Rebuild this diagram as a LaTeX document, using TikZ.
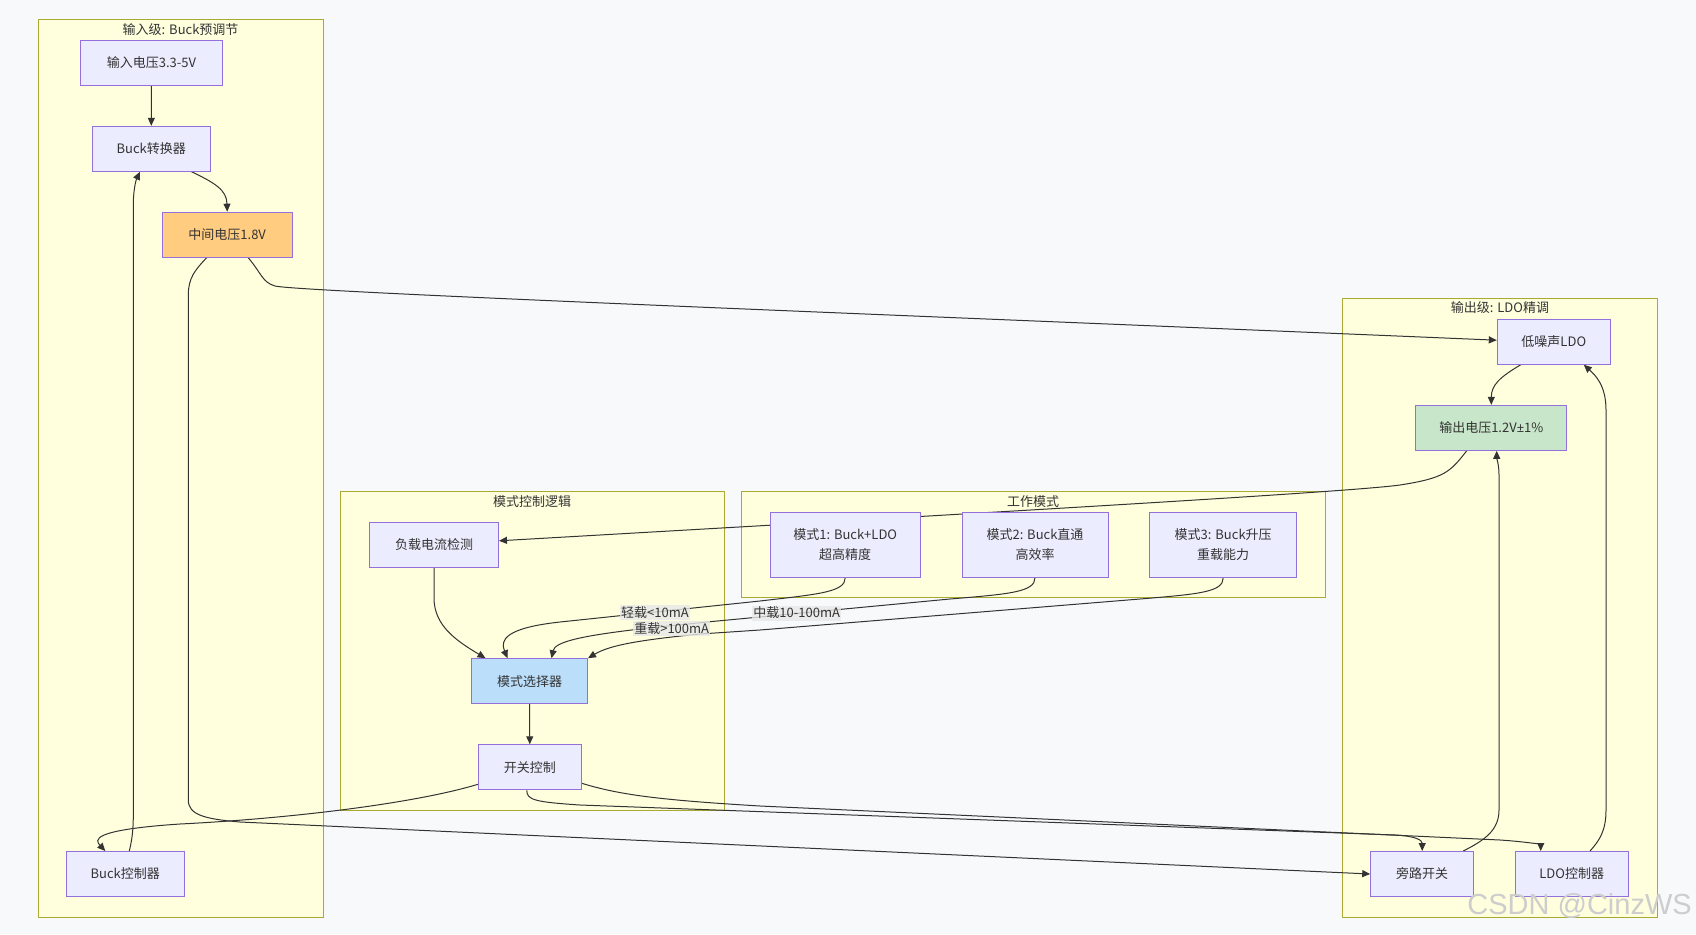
\documentclass[tikz,border=0pt]{standalone}
\usepackage{fontspec}
\setmainfont{Noto Sans CJK SC}
\newfontfamily\wmfont{Liberation Sans}
\newfontfamily\pmfont{Noto Sans}
\usetikzlibrary{arrows.meta,backgrounds}

\definecolor{pagebg}{RGB}{248,249,251}
\definecolor{clusterfill}{RGB}{255,255,222}
\definecolor{clusterline}{RGB}{170,170,51}
\definecolor{nodefill}{RGB}{236,236,255}
\definecolor{nodeline}{RGB}{147,112,219}
\definecolor{orangefill}{RGB}{255,204,128}
\definecolor{greenfill}{RGB}{200,230,201}
\definecolor{bluefill}{RGB}{187,222,251}
\definecolor{inkgray}{RGB}{51,51,51}
\definecolor{lblgray}{RGB}{232,232,232}
\definecolor{wmgray}{RGB}{205,205,205}

\begin{document}
\begin{tikzpicture}[x=1pt, y=-1pt,
    box/.style={draw=nodeline, fill=nodefill, line width=1pt, minimum height=45pt, inner sep=0pt, text=inkgray, font=\fontsize{13}{16}\selectfont},
    modebox/.style={box, minimum height=65pt, align=center, font=\fontsize{13}{19.7}\selectfont},
    cluster/.style={draw=clusterline, fill=clusterfill, line width=1pt},
    grptitle/.style={text=inkgray, inner sep=1pt, font=\fontsize{13}{16}\selectfont},
    link/.style={draw=inkgray, line width=1pt, -{Triangle[length=8pt,width=7pt]}},
    lbl/.style={fill=lblgray, fill opacity=0.8, text opacity=1, text=inkgray, inner xsep=1pt, inner ysep=1.5pt, font=\fontsize{13}{16}\selectfont}
]
\useasboundingbox (0,0) rectangle (1696,934);

% Input stage
\node[box, minimum width=142pt] (vin) at (151.5,62.7) {输入电压3.3-5V};
\node[box, minimum width=118pt] (buck) at (151.3,148.8) {Buck转换器};
\node[box, fill=orangefill, minimum width=130pt] (vmid) at (227.2,234.7) {中间电压1.8V};
\node[box, minimum width=118pt] (buckctl) at (125.3,874) {Buck控制器};

% Mode control logic
\node[box, minimum width=129pt] (sense) at (434,544.8) {负载电流检测};
\node[box, fill=bluefill, minimum width=116pt] (sel) at (529.5,681.2) {模式选择器};
\node[box, minimum width=103pt] (sw) at (529.8,767.3) {开关控制};

% Working modes
\node[modebox, minimum width=150pt] (modeA) at (845.2,544.7) {模式1: Buck+LDO\\超高精度};
\node[modebox, minimum width=146pt] (modeB) at (1035,544.7) {模式2: Buck直通\\高效率};
\node[modebox, minimum width=147pt] (modeC) at (1223.2,544.7) {模式3: Buck升压\\重载能力};

% Output stage
\node[box, minimum width=113pt] (ldo) at (1553.8,341.7) {低噪声LDO};
\node[box, fill=greenfill, minimum width=151pt] (vout) at (1491.3,427.8) {输出电压1.2V{\pmfont ±}1\%};
\node[box, minimum width=103pt] (bypass) at (1422.2,874) {旁路开关};
\node[box, minimum width=113pt] (ldoctl) at (1571.7,874) {LDO控制器};

% Group titles
\node[grptitle] (inTitle) at (180.6,29.2) {输入级: Buck预调节};
\node[grptitle] (ctrlTitle) at (532,501.7) {模式控制逻辑};
\node[grptitle] (modeTitle) at (1033,501.7) {工作模式};
\node[grptitle] (outTitle) at (1500,308) {输出级: LDO精调};

\begin{scope}[on background layer]
% Page and groups
\fill[pagebg] (0,0) rectangle (1696,934);
\draw[cluster] (38,19.3) rectangle (323.4,917.2);
\draw[cluster] (340.7,491.7) rectangle (724,810.3);
\draw[cluster] (741,491.7) rectangle (1325.3,597.3);
\draw[cluster] (1342.3,298.3) rectangle (1657.3,917.3);

% Power path
\draw[link] (vin.south) -- (buck.north);
\draw[link] ([xshift=40.4pt]buck.south) .. controls (215,183) and (226.7,190) .. (vmid.north);
\draw[link] ([xshift=21pt]vmid.south) .. controls (262,274) and (262,282) .. (275,286) .. controls (300,292) and (900,315) .. ([yshift=1.5pt]ldo.west);
\draw[link] ([xshift=-33pt]ldo.south) .. controls (1500,377) and (1491.3,385) .. (vout.north);

% Sensing and mode selection
\draw[link] ([xshift=-24.6pt]vout.south) .. controls (1450,472) and (1445,478) .. (1400,485) .. controls (1350,492) and (1000,512) .. ([yshift=4pt]sense.east);
\draw[link] (sense.south) -- ++(0,30) .. controls (434,625) and (455,640) .. ([xshift=-44pt]sel.north);
\draw[link] (modeA.south) .. controls (845.2,592) and (820,594) .. (760,601) -- (560,622) .. controls (505,628) and (500,640) .. ([xshift=-22pt]sel.north);
\draw[link] (modeB.south) .. controls (1035,592) and (1010,594) .. (950,599) -- (710,621.7) -- (640,629) .. controls (580,636) and (555,642) .. ([xshift=22pt]sel.north);
\draw[link] (modeC.south) .. controls (1223.2,592) and (1200,594) .. (1140,599) -- (760,630) -- (700,634) .. controls (640,640) and (610,645) .. (sel.north east);
\draw[link] (sel.south) -- (sw.north);

% Switch control outputs
\draw[link] ([yshift=-17pt]sw.west) .. controls (420,802) and (300,818) .. (180,824) .. controls (90,830) and (95,840) .. ([xshift=-20pt]buckctl.north);
\draw[link] ([xshift=-3pt]sw.south) .. controls (526.7,800) and (535,802) .. (580,805) -- (1395,835) .. controls (1415,836) and (1422.2,840) .. (bypass.north);
\draw[link] ([yshift=-16pt]sw.east) .. controls (620,795) and (660,800) .. (760,806) -- (1500,840) .. controls (1530,842) and (1540.7,845) .. ([xshift=-31pt]ldoctl.north);

% Feedback into the stages
\draw[link] ([xshift=4pt]buckctl.north) .. controls (132,840) and (133.3,830) .. (133.3,815) -- (133.3,205) .. controls (133.3,190) and (136,180) .. ([xshift=-11.3pt]buck.south);
\draw[link] ([xshift=-20.5pt]vmid.south) .. controls (195,270) and (188.3,278) .. (188.3,295) -- (188.3,800) .. controls (188.3,815) and (205,819) .. (240,822) -- (bypass.west);
\draw[link] ([xshift=41pt]bypass.north) .. controls (1485,840) and (1499,830) .. (1499,810) -- (1499,475) .. controls (1499,465) and (1496.7,458) .. ([xshift=5.4pt]vout.south);
\draw[link] ([xshift=18.3pt]ldoctl.north) .. controls (1600,840) and (1606,830) .. (1606,810) -- (1606,410) .. controls (1606,385) and (1595,375) .. ([xshift=30pt]ldo.south);
\end{scope}

% Edge labels
\node[lbl] (lightLbl) at (655,612.7) {轻载<10mA};
\node[lbl] (heavyLbl) at (671.7,628.3) {重载>100mA};
\node[lbl] (midLbl) at (796.7,613) {中载10-100mA};

% Watermark
\node[anchor=east, text=wmgray, inner sep=0pt, font=\wmfont\fontsize{29}{29}\selectfont] (wm) at (1692,905.5) {CSDN @CinzWS};

\end{tikzpicture}
\end{document}
